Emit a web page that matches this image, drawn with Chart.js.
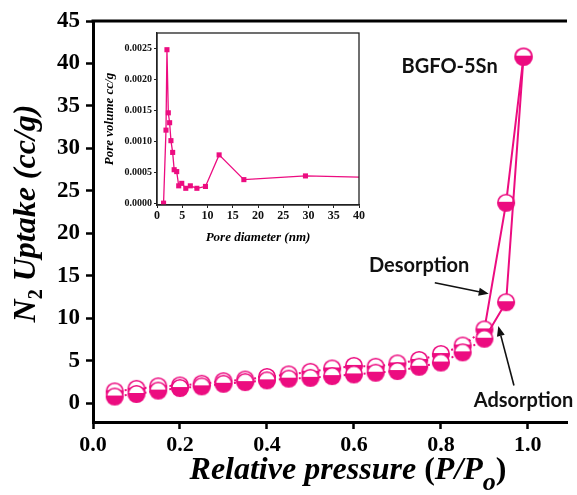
<!DOCTYPE html>
<html><head><meta charset="utf-8">
<script src="https://cdn.jsdelivr.net/npm/chart.js@4/dist/chart.umd.min.js"></script>
<style>
html,body{margin:0;padding:0;background:#fff;}
#wrap{position:relative;width:577px;height:495px;overflow:hidden;}
#main{position:absolute;left:0;top:0;}
#inset{position:absolute;left:95px;top:22px;}
</style></head><body>
<div id="wrap"><canvas id="main" width="577" height="495"></canvas><canvas id="inset" width="275" height="228"></canvas></div>
<script>
// ---- data ----
const pressure   = [0.05,0.10,0.15,0.20,0.25,0.30,0.35,0.40,0.45,0.50,0.55,0.60,0.65,0.70,0.75,0.80,0.85,0.90,0.95,0.99];
const adsorption = [0.8,1.1,1.5,1.8,2.0,2.3,2.5,2.7,2.9,3.0,3.2,3.4,3.6,3.8,4.3,4.8,6.0,7.6,11.9,40.8];
const desorption = [1.4,1.7,2.0,2.1,2.3,2.6,2.8,3.1,3.4,3.7,4.1,4.4,4.3,4.7,5.1,5.8,6.8,8.7,23.6,40.8];
const xTicks = [0,0.2,0.4,0.6,0.8,1.0];
const yTicks = [0,5,10,15,20,25,30,35,40,45];

const poreDiameter = [1.3,1.78,1.97,2.24,2.5,2.76,3.1,3.4,3.9,4.3,4.9,5.7,6.6,7.9,9.6,12.3,17.2,29.4,48];
const poreVolume   = [0,0.00118,0.00248,0.00146,0.0013,0.00101,0.00082,0.00054,0.00051,0.00028,0.00032,0.00024,0.00028,0.00024,0.00027,0.00078,0.00038,0.00044,0.000405];
const insetXTicks = [0,5,10,15,20,25,30,35,40];
const insetYTicks = [0,0.0005,0.0010,0.0015,0.0020,0.0025];

const sampleLabel = 'BGFO-5Sn';
const desLabel = 'Desorption';
const adsLabel = 'Adsorption';

// ---- styles ----
const PINK = '#ec0c80';
const SERIF = '"Liberation Serif","Times New Roman",serif';

function halfMarker(){
  const c = document.createElement('canvas');
  c.width = 20; c.height = 20;
  const g = c.getContext('2d');
  const cx = 10, cy = 10, r = 8.3;
  g.beginPath(); g.arc(cx,cy,r,0,Math.PI*2); g.fillStyle='#fff'; g.fill();
  g.save(); g.beginPath(); g.rect(0,cy-1,20,20); g.clip();
  g.beginPath(); g.arc(cx,cy,r,0,Math.PI*2); g.fillStyle=PINK; g.fill(); g.restore();
  g.beginPath(); g.arc(cx,cy,r,0,Math.PI*2); g.strokeStyle=PINK; g.lineWidth=1.6; g.stroke();
  return c;
}
const marker = halfMarker();

function drawRich(ctx, parts, cx, cy, angle){
  ctx.save(); ctx.translate(cx,cy); ctx.rotate(angle);
  let w=0;
  parts.forEach(p=>{ctx.font=p.font; p.w=ctx.measureText(p.t).width; w+=p.w;});
  let x=-w/2; ctx.textBaseline='alphabetic'; ctx.textAlign='left'; ctx.fillStyle='#000';
  parts.forEach(p=>{ctx.font=p.font; ctx.fillText(p.t,x,p.dy||0); x+=p.w;});
  ctx.restore();
}

const BI = s => `italic bold ${s}px ${SERIF}`;
const B  = s => `bold ${s}px ${SERIF}`;

const notes = [
  {text: sampleLabel, x:0.82, y:39.6},
  {text: desLabel,    x:0.75, y:16.2},
  {text: adsLabel,    x:0.99, y:0.35}
];
const arrows = [
  {from:[0.786,14.2], to:[0.910,12.9]},
  {from:[0.968,2.1],  to:[0.932,9.1]}
];

const mainDecor = {
  id:'mainDecor',
  afterDatasetsDraw(chart){
    const {ctx, chartArea:a, scales:{x,y}} = chart;
    ctx.save();
    ctx.strokeStyle='#000'; ctx.lineWidth=3;
    ctx.beginPath(); ctx.moveTo(a.left-1.5,a.top); ctx.lineTo(a.right,a.top); ctx.stroke();
    ctx.fillStyle='#111'; ctx.textAlign='center'; ctx.textBaseline='middle';
    notes.forEach(n=>{
      ctx.font = 'bold 20px Lato, "Open Sans", sans-serif';
      ctx.fillText(n.text, x.getPixelForValue(n.x), y.getPixelForValue(n.y));
    });
    arrows.forEach(ar=>{
      const x1=x.getPixelForValue(ar.from[0]), y1=y.getPixelForValue(ar.from[1]);
      const x2=x.getPixelForValue(ar.to[0]),   y2=y.getPixelForValue(ar.to[1]);
      const ang=Math.atan2(y2-y1,x2-x1), L=10, W=4;
      const bx=x2-L*Math.cos(ang), by=y2-L*Math.sin(ang);
      ctx.strokeStyle='#111'; ctx.lineWidth=1.6;
      ctx.beginPath(); ctx.moveTo(x1,y1); ctx.lineTo(bx,by); ctx.stroke();
      ctx.fillStyle='#111'; ctx.beginPath();
      ctx.moveTo(x2,y2);
      ctx.lineTo(bx+W*Math.sin(ang), by-W*Math.cos(ang));
      ctx.lineTo(bx-W*Math.sin(ang), by+W*Math.cos(ang));
      ctx.closePath(); ctx.fill();
    });
    ctx.restore();
    const yt=[{t:'N',font:BI(32)},{t:'2',font:B(20),dy:7},{t:' Uptake (cc/g)',font:BI(32)}];
    drawRich(ctx, yt, 35, (a.top+a.bottom)/2 - 8, -Math.PI/2);
    const xt=[{t:'Relative pressure ',font:BI(32)},{t:'(',font:B(32)},{t:'P/P',font:BI(32)},{t:'o',font:BI(26),dy:11},{t:')',font:B(32)}];
    drawRich(ctx, xt, 348, 479, 0);
  }
};

const dashSeg = ctx => (ctx.p1.parsed.x >= 0.95 ? [] : [2,3]);

new Chart(document.getElementById('main'), {
  type:'line',
  data:{datasets:[
    {label:'Adsorption', data: pressure.map((p,i)=>({x:p,y:adsorption[i]})),
     borderColor:PINK, borderWidth:2, pointStyle:marker, pointRadius:8, segment:{borderDash:dashSeg}},
    {label:'Desorption', data: pressure.map((p,i)=>({x:p,y:desorption[i]})),
     borderColor:PINK, borderWidth:2, pointStyle:marker, pointRadius:8, segment:{borderDash:dashSeg}}
  ]},
  options:{
    responsive:false, animation:false,
    layout:{padding:{top:21,right:0,left:0,bottom:0}},
    plugins:{legend:{display:false}, tooltip:{enabled:false}},
    scales:{
      x:{type:'linear', min:0, max:1.09,
        afterBuildTicks:s=>{s.ticks=xTicks.map(v=>({value:v}));},
        afterFit:s=>{s.height=73;},
        ticks:{callback:v=>Number(v).toFixed(1), font:{family:SERIF,size:22,weight:'bold'}, color:'#000', padding:3, maxRotation:0, autoSkip:false},
        grid:{drawOnChartArea:false, tickLength:7, tickWidth:2.5, tickColor:'#000'},
        border:{display:true, width:3, color:'#000'}},
      y:{type:'linear', min:-2.2, max:45,
        afterBuildTicks:s=>{s.ticks=yTicks.map(v=>({value:v}));},
        afterFit:s=>{s.width=93;},
        ticks:{callback:v=>String(v), font:{family:SERIF,size:23,weight:'bold'}, color:'#000', padding:6, autoSkip:false},
        grid:{drawOnChartArea:false, tickLength:7, tickWidth:2.5, tickColor:'#000'},
        border:{display:true, width:3, color:'#000'}}
    }
  },
  plugins:[mainDecor]
});

const insetDecor = {
  id:'insetDecor',
  afterDraw(chart){
    const {ctx, chartArea:a} = chart;
    ctx.save();
    ctx.strokeStyle='#222'; ctx.lineWidth=1.3;
    ctx.strokeRect(a.left,a.top,a.right-a.left,a.bottom-a.top);
    ctx.restore();
    drawRich(ctx,[{t:'Pore volume cc/g',font:BI(13)}], 18, (a.top+a.bottom)/2, -Math.PI/2);
    drawRich(ctx,[{t:'Pore diameter (nm)',font:BI(13)}], (a.left+a.right)/2, 219, 0);
  }
};

new Chart(document.getElementById('inset'), {
  type:'line',
  data:{datasets:[{data: poreDiameter.map((d,i)=>({x:d,y:poreVolume[i]})),
    borderColor:PINK, backgroundColor:PINK, borderWidth:1.3, pointStyle:'rect', pointRadius:3.6, pointBorderWidth:0}]},
  options:{
    responsive:false, animation:false,
    layout:{padding:{top:11,right:11,left:0,bottom:0}},
    plugins:{legend:{display:false}, tooltip:{enabled:false}},
    scales:{
      x:{type:'linear', min:0, max:40,
        afterBuildTicks:s=>{s.ticks=insetXTicks.map(v=>({value:v}));},
        afterFit:s=>{s.height=45;},
        ticks:{callback:v=>String(v), font:{family:SERIF,size:12,weight:'bold'}, color:'#111', padding:1, maxRotation:0, autoSkip:false},
        grid:{drawOnChartArea:false, tickLength:3, tickWidth:1, tickColor:'#222'},
        border:{display:true, width:1.3, color:'#222'}},
      y:{type:'linear', min:-0.00003, max:0.00275,
        afterBuildTicks:s=>{s.ticks=insetYTicks.map(v=>({value:v}));},
        afterFit:s=>{s.width=62;},
        ticks:{callback:v=>Number(v).toFixed(4), font:{family:SERIF,size:10,weight:'bold'}, color:'#111', padding:2, autoSkip:false},
        grid:{drawOnChartArea:false, tickLength:3, tickWidth:1, tickColor:'#222'},
        border:{display:true, width:1.3, color:'#222'}}
    }
  },
  plugins:[insetDecor]
});
</script>
</body></html>
